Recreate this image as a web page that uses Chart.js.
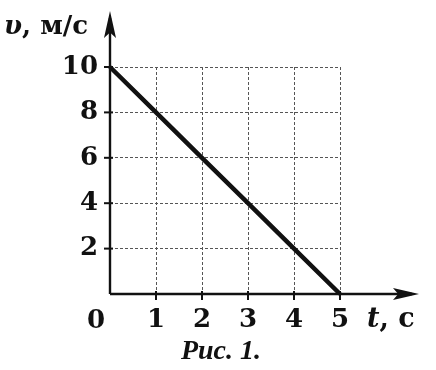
<!DOCTYPE html>
<html>
<head>
<meta charset="utf-8">
<script src="https://cdn.jsdelivr.net/npm/chart.js@4"></script>
<style>
  html, body { margin: 0; padding: 0; background: #fff; }
  #wrap { width: 436px; height: 370px; }
</style>
</head>
<body>
<div id="wrap"><canvas id="chart" width="436" height="370"></canvas></div>
<script>
// v(t) graph, Рис. 1
const TIMES = [0, 1, 2, 3, 4, 5];
const SPEEDS = [10, 8, 6, 4, 2, 0];
const X_TICKS = [0, 1, 2, 3, 4, 5];
const Y_TICKS = [0, 2, 4, 6, 8, 10];

const SERIF = "'DejaVu Serif', 'Liberation Serif', serif";
const TIMES_FONT = "'Liberation Serif', serif";
const INK = '#111';

function arrowHead(ctx, tipX, tipY, dx, dy, len, half) {
  // dx,dy: unit direction of arrow
  const bx = tipX - dx * len, by = tipY - dy * len;
  const nx = -dy, ny = dx;
  const notch = len * 0.2;
  ctx.beginPath();
  ctx.moveTo(tipX, tipY);
  ctx.lineTo(bx + nx * half, by + ny * half);
  ctx.lineTo(tipX - dx * (len - notch), tipY - dy * (len - notch));
  ctx.lineTo(bx - nx * half, by - ny * half);
  ctx.closePath();
  ctx.fill();
}

// axes with arrows, tick marks and the hand-placed labels
const axesPlugin = {
  id: 'axes',
  afterDraw(chart) {
    const { ctx, scales: { x, y } } = chart;
    const x0 = x.getPixelForValue(0);
    const y0 = y.getPixelForValue(0);
    ctx.save();
    ctx.strokeStyle = INK;
    ctx.fillStyle = INK;
    ctx.lineWidth = 2.4;
    ctx.beginPath();
    ctx.moveTo(x0, y0);
    ctx.lineTo(412, y0);
    ctx.moveTo(x0, y0);
    ctx.lineTo(x0, 18);
    ctx.stroke();
    arrowHead(ctx, 419, y0, 1, 0, 26, 6);
    arrowHead(ctx, x0, 11, 0, -1, 27, 6);

    ctx.lineWidth = 2;
    X_TICKS.filter(v => v > 0).forEach(v => {
      const px = x.getPixelForValue(v);
      ctx.beginPath();
      ctx.moveTo(px, y0 - 3);
      ctx.lineTo(px, y0 + 6);
      ctx.stroke();
    });
    Y_TICKS.filter(v => v > 0).forEach(v => {
      const py = y.getPixelForValue(v);
      ctx.beginPath();
      ctx.moveTo(x0 - 6, py);
      ctx.lineTo(x0 + 3, py);
      ctx.stroke();
    });

    ctx.textBaseline = 'middle';
    ctx.textAlign = 'center';
    ctx.font = `bold 26px ${SERIF}`;
    ctx.fillText('0', 96, 321);

    // x axis name: t, с
    ctx.textAlign = 'left';
    ctx.font = `italic bold 27px ${SERIF}`;
    ctx.fillText('t', 367, 320);
    let w = ctx.measureText('t').width;
    ctx.font = `bold 27px ${SERIF}`;
    ctx.fillText(', с', 367 + w, 320);

    // y axis name: υ, м/с
    ctx.font = `italic bold 26px ${SERIF}`;
    ctx.fillText('υ', 4, 27);
    w = ctx.measureText('υ').width;
    ctx.font = `bold 26px ${SERIF}`;
    ctx.fillText(', м/с', 4 + w, 27);

    // caption
    ctx.textAlign = 'center';
    ctx.font = `italic bold 28px ${TIMES_FONT}`;
    ctx.fillText('Рис. 1.', 221, 352);
    ctx.restore();
  }
};

new Chart(document.getElementById('chart'), {
  type: 'line',
  data: {
    datasets: [{
      data: TIMES.map((t, i) => ({ x: t, y: SPEEDS[i] })),
      borderColor: INK,
      borderWidth: 4.5,
      pointRadius: 0,
      tension: 0,
      fill: false,
      clip: false,
    }]
  },
  options: {
    responsive: false,
    animation: false,
    layout: { padding: { left: 0, top: 67, right: 96, bottom: 0 } },
    plugins: {
      legend: { display: false },
      tooltip: { enabled: false },
    },
    scales: {
      x: {
        type: 'linear',
        min: 0,
        max: 5,
        afterFit(scale) { scale.height = 76; },
        afterBuildTicks(scale) { scale.ticks = X_TICKS.map(v => ({ value: v })); },
        ticks: {
          color: INK,
          font: { family: SERIF, size: 26, weight: 'bold' },
          padding: 11,
          callback: v => (v === 0 ? '' : v),
        },
        grid: { color: '#555', lineWidth: 1, drawTicks: false },
        border: { display: false, dash: [3, 2] },
      },
      y: {
        min: 0,
        max: 10,
        afterFit(scale) { scale.width = 110; },
        afterBuildTicks(scale) { scale.ticks = Y_TICKS.map(v => ({ value: v })); },
        ticks: {
          color: INK,
          font: { family: SERIF, size: 26, weight: 'bold' },
          padding: 12,
          callback: v => (v === 0 ? '' : v),
        },
        grid: { color: '#555', lineWidth: 1, drawTicks: false },
        border: { display: false, dash: [3, 2] },
      }
    }
  },
  plugins: [axesPlugin]
});
</script>
</body>
</html>
